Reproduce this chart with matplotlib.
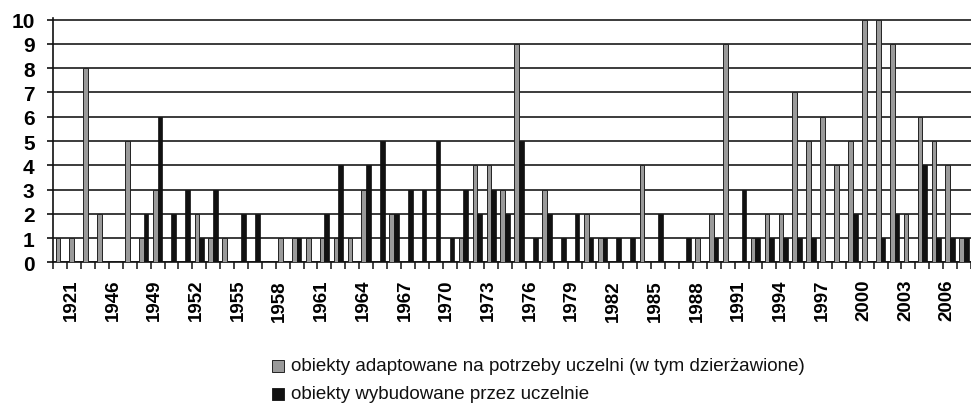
import numpy as np
import matplotlib
matplotlib.use("Agg")
import matplotlib.pyplot as plt
import matplotlib.transforms as mtransforms
from matplotlib.patches import Rectangle

plt.rcParams['font.family'] = ['Liberation Sans', 'DejaVu Sans']

# Categories (years); two years between 1921 and 1946 are unlabelled in the original
years = ['1921', '1930', '1945'] + [str(y) for y in range(1946, 2009)]

adapted = [1, 1, 8, 2, 0, 5, 1, 3, 0, 0,
           2, 1, 1, 0, 0, 0, 1, 1, 1, 1,
           1, 1, 3, 0, 2, 0, 0, 0, 0, 1,
           4, 4, 3, 9, 0, 3, 0, 0, 2, 1,
           0, 0, 4, 0, 0, 0, 1, 2, 9, 0,
           1, 2, 2, 7, 5, 6, 4, 5, 10, 10,
           9, 2, 6, 5, 4, 1]
built = [0, 0, 0, 0, 0, 0, 2, 6, 2, 3,
         1, 3, 0, 2, 2, 0, 0, 1, 0, 2,
         4, 0, 4, 5, 2, 3, 3, 5, 1, 3,
         2, 3, 2, 5, 1, 2, 1, 2, 1, 1,
         1, 1, 0, 2, 0, 1, 0, 1, 0, 3,
         1, 1, 1, 1, 1, 0, 0, 2, 0, 1,
         2, 0, 4, 1, 1, 1]

legend_labels = ['obiekty adaptowane na potrzeby uczelni (w tym dzierżawione)',
                 'obiekty wybudowane przez uczelnie']

W, H = 971, 406
fig = plt.figure(figsize=(W / 100, H / 100), dpi=100)
fig.patch.set_facecolor('white')

x0_px, y0_px, y10_px = 53.3, 263.3, 20.7
cat_px = 13.96
unit = (y0_px - y10_px) / 10
ytop = 10.05
ax = fig.add_axes([x0_px / W, 1 - y0_px / H, (W - x0_px) / W, ytop * unit / H])

n = len(years)
x = np.arange(n)
w = 0.34
grey_c = '#9a9a9a'
black_c = '#111111'
ax.bar(x - w / 2, adapted, w, color=grey_c, edgecolor='#222222', linewidth=0.7, zorder=3)
ax.bar(x + w / 2, built, w, color=black_c, edgecolor=black_c, linewidth=0.5, zorder=3)

ax.set_xlim(-0.5, -0.5 + (W - x0_px) / cat_px)
ax.set_ylim(0, ytop)
ax.set_yticks(range(11))
ax.yaxis.grid(True, color='#1a1a1a', linewidth=1.2)
ax.set_axisbelow(True)
for s in ['top', 'right']:
    ax.spines[s].set_visible(False)
for s in ['left', 'bottom']:
    ax.spines[s].set_color('#111111')
    ax.spines[s].set_linewidth(1.2)

ax.tick_params(axis='y', length=4.5, width=1.2, color='#111111', pad=9,
               labelsize=15)
for t in ax.get_yticklabels():
    t.set_fontweight('bold')

# category boundaries as tick marks
ax.set_xticks(np.arange(-0.5, n + 0.5, 1.0), minor=True)
ax.tick_params(axis='x', which='minor', length=5, width=1.1, color='#111111', direction='out')
lab_idx = list(range(0, n, 3))
ax.set_xticks(lab_idx)
ax.set_xticklabels([years[i] for i in lab_idx], rotation=90, fontsize=13.5,
                   fontweight='bold')
ax.tick_params(axis='x', which='major', length=0, pad=12)
offset = mtransforms.ScaledTranslation(11 / 100, 0, fig.dpi_scale_trans)
for t in ax.get_xticklabels():
    t.set_transform(t.get_transform() + offset)

# legend
def add_entry(ypx, color, label):
    fig.patches.append(Rectangle((272 / W, 1 - (ypx + 6) / H), 12 / W, 12 / H,
                                 transform=fig.transFigure, facecolor=color,
                                 edgecolor='#222222', linewidth=0.7))
    fig.text(291 / W, 1 - ypx / H, label, fontsize=13.5, va='center', ha='left',
             color='#111111')

add_entry(367, grey_c, legend_labels[0])
add_entry(395, black_c, legend_labels[1])

fig.savefig('out.png', dpi=100, facecolor='white')
